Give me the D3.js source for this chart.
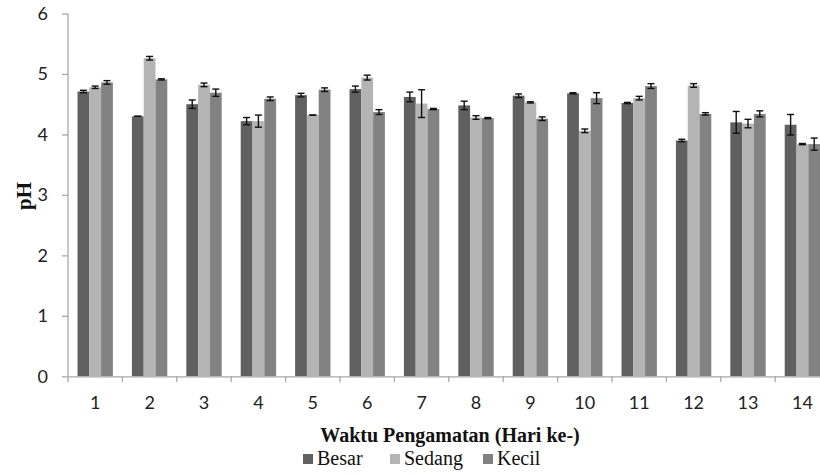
<!DOCTYPE html>
<html>
<head>
<meta charset="utf-8">
<script src="https://cdn.jsdelivr.net/npm/d3@7"></script>
<style>
  body { margin: 0; background: #fff; }
  svg { display: block; }
  .tick text { font-family: Lato, "Open Sans", sans-serif; font-size: 18px; fill: #222; }
  .serif { font-family: "Liberation Serif", "DejaVu Serif", serif; fill: #111; }
</style>
</head>
<body>
<div id="chart"></div>
<script>

// Categories (day of observation).
var days = ['1', '2', '3', '4', '5', '6', '7', '8', '9', '10', '11', '12', '13', '14'];

// Series names.
var series = ['Besar', 'Sedang', 'Kecil'];

// Mean pH per series.
var besar  = [4.71, 4.30, 4.50, 4.22, 4.65, 4.75, 4.62, 4.48, 4.64, 4.68, 4.52, 3.90, 4.20, 4.16];
var sedang = [4.78, 5.26, 4.82, 4.22, 4.32, 4.94, 4.51, 4.28, 4.53, 4.06, 4.60, 4.81, 4.18, 3.84];
var kecil  = [4.86, 4.91, 4.69, 4.59, 4.74, 4.37, 4.42, 4.27, 4.26, 4.60, 4.80, 4.34, 4.34, 3.84];

// Error (+/-) per series.
var besarErr  = [0.02, 0.00, 0.07, 0.06, 0.03, 0.05, 0.08, 0.07, 0.03, 0.01, 0.01, 0.02, 0.18, 0.17];
var sedangErr = [0.02, 0.03, 0.03, 0.10, 0.00, 0.04, 0.23, 0.03, 0.01, 0.03, 0.03, 0.03, 0.07, 0.01];
var kecilErr  = [0.03, 0.01, 0.06, 0.03, 0.03, 0.04, 0.01, 0.01, 0.03, 0.09, 0.04, 0.02, 0.05, 0.10];

// Y tick values.
var yTicks = [0, 1, 2, 3, 4, 5, 6];

var colors = { Besar: '#606060', Sedang: '#b4b4b4', Kecil: '#828282' };

var width = 820, height = 474;
var plotLeft = 68, plotTop = 13.5, plotBottom = 376.3, step = 54.4;

// Build rows from the arrays.
var values = { Besar: besar, Sedang: sedang, Kecil: kecil };
var errors = { Besar: besarErr, Sedang: sedangErr, Kecil: kecilErr };
var rows = days.map(function(d, i) {
  return {
    day: d,
    bars: series.map(function(s) {
      return { name: s, value: values[s][i], err: errors[s][i] };
    })
  };
});

var svg = d3.select('#chart').append('svg')
  .attr('width', width)
  .attr('height', height);

// Scales.
var x0 = d3.scaleBand().domain(days).range([plotLeft, plotLeft + step * days.length]).padding(0);
var x1 = d3.scaleBand().domain(series)
  .range([x0.bandwidth() * 0.175, x0.bandwidth() * 0.825]).padding(0);
var y = d3.scaleLinear().domain([0, 6]).range([plotBottom, plotTop]);

// Bars.
var group = svg.selectAll('g.group')
  .data(rows)
  .enter().append('g')
  .attr('class', 'group')
  .attr('transform', function(d) { return 'translate(' + x0(d.day) + ',0)'; });

group.selectAll('rect')
  .data(function(d) { return d.bars; })
  .enter().append('rect')
  .attr('x', function(d) { return x1(d.name); })
  .attr('y', function(d) { return y(d.value); })
  .attr('width', x1.bandwidth())
  .attr('height', function(d) { return y(0) - y(d.value); })
  .attr('fill', function(d) { return colors[d.name]; });

// Error bars.
var cap = 3.5;
var err = group.selectAll('g.err')
  .data(function(d) { return d.bars; })
  .enter().append('g')
  .attr('class', 'err')
  .attr('stroke', '#111')
  .attr('stroke-width', 1.4);

err.append('line')
  .attr('x1', function(d) { return x1(d.name) + x1.bandwidth() / 2; })
  .attr('x2', function(d) { return x1(d.name) + x1.bandwidth() / 2; })
  .attr('y1', function(d) { return y(d.value + d.err); })
  .attr('y2', function(d) { return y(d.value - d.err); });

[1, -1].forEach(function(sign) {
  err.append('line')
    .attr('x1', function(d) { return x1(d.name) + x1.bandwidth() / 2 - cap; })
    .attr('x2', function(d) { return x1(d.name) + x1.bandwidth() / 2 + cap; })
    .attr('y1', function(d) { return y(d.value + sign * d.err); })
    .attr('y2', function(d) { return y(d.value + sign * d.err); });
});

// Y axis.
var yAxis = svg.append('g')
  .attr('transform', 'translate(' + plotLeft + ',0)')
  .call(d3.axisLeft(y).tickValues(yTicks).tickSize(6).tickPadding(14).tickFormat(d3.format('d')));
yAxis.selectAll('line, path').attr('stroke', '#a8a8a8').attr('stroke-width', 1.3);
yAxis.select('.domain').attr('d', 'M0,' + plotTop + 'V' + plotBottom);

// X axis: labels at centres, ticks between groups.
var xAxis = svg.append('g')
  .attr('transform', 'translate(0,' + plotBottom + ')')
  .call(d3.axisBottom(x0).tickSize(0).tickPadding(20));
xAxis.select('.domain').attr('stroke', '#a8a8a8').attr('stroke-width', 1.3);
xAxis.selectAll('line.sep')
  .data(days)
  .enter().append('line')
  .attr('class', 'sep')
  .attr('x1', function(d) { return x0(d); })
  .attr('x2', function(d) { return x0(d); })
  .attr('y1', 0)
  .attr('y2', 6)
  .attr('stroke', '#a8a8a8')
  .attr('stroke-width', 1.3);

// Axis titles.
svg.append('text')
  .attr('class', 'serif')
  .attr('transform', 'translate(31,196) rotate(-90)')
  .attr('text-anchor', 'middle')
  .style('font-size', '21px')
  .style('font-weight', 'bold')
  .text('pH');

svg.append('text')
  .attr('class', 'serif')
  .attr('x', 450)
  .attr('y', 442)
  .attr('text-anchor', 'middle')
  .style('font-size', '20px')
  .style('font-weight', 'bold')
  .text('Waktu Pengamatan (Hari ke-)');

// Legend.
var legendX = [303, 390, 483];
var legend = svg.selectAll('g.legend')
  .data(series)
  .enter().append('g')
  .attr('class', 'legend')
  .attr('transform', function(d, i) { return 'translate(' + legendX[i] + ',454)'; });

legend.append('rect')
  .attr('width', 10)
  .attr('height', 10)
  .attr('fill', function(d) { return colors[d]; });

legend.append('text')
  .attr('class', 'serif')
  .attr('x', 14)
  .attr('y', 10.5)
  .style('font-size', '20px')
  .text(function(d) { return d; });

</script>
</body>
</html>
